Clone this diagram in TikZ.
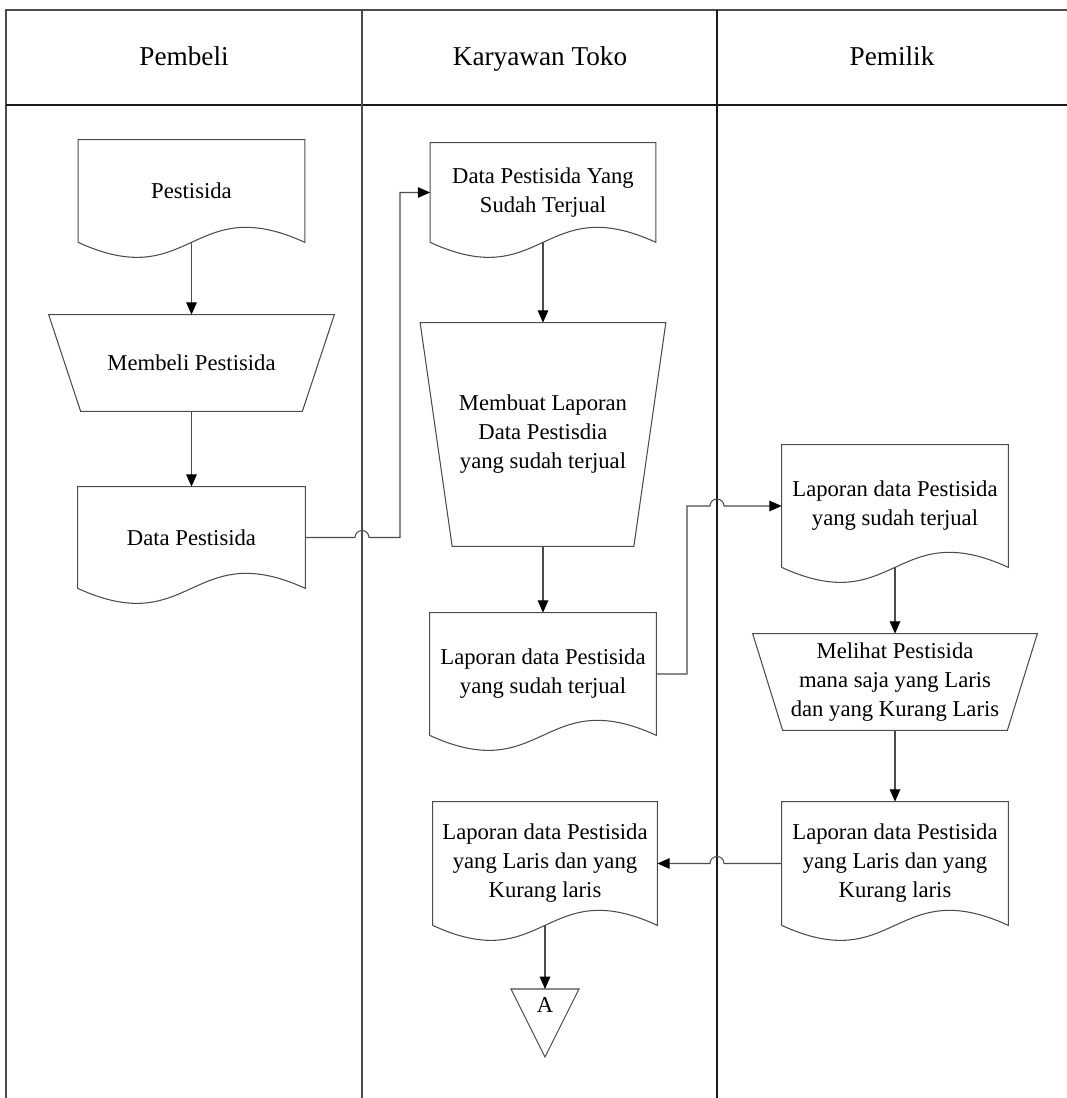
\documentclass[tikz,border=0pt]{standalone}
\usepackage{fontspec}
\setmainfont{Liberation Serif}
\usetikzlibrary{arrows.meta,calc}

\newcommand{\unitpx}{0.02cm}
\newcommand{\docshape}[1]{%
  \draw[line] (#1.south west) -- (#1.north west) -- (#1.north east) -- (#1.south east)
    .. controls ($(#1.south)+(0,-52)$) and ($(#1.south)+(0,52)$) .. (#1.south west);}
\newcommand{\manshape}[2]{%
  \draw[line] (#1.north west) -- (#1.north east) -- ($(#1.south east)+(-#2,0)$)
    -- ($(#1.south west)+(#2,0)$) -- cycle;}

\begin{document}
\begin{tikzpicture}[x=0.02cm, y=-0.02cm,
    line/.style={draw=black!70, line width=0.6pt},
    flow/.style={line, -{Triangle[length=7pt, width=6pt, color=black]}},
    txt/.style={font=\fontsize{12.9}{16.5}\selectfont, align=center, inner sep=0pt},
    box/.style 2 args={txt, minimum width=#1*\unitpx, minimum height=#2*\unitpx},
    head/.style={font=\fontsize{15.5}{18}\selectfont, anchor=base}]
        \useasboundingbox (0,0) rectangle (1067,1098);

        % lanes
        \draw[line] (6,1098) -- (6,10) -- (1067,10);
        \draw[line, draw=black!90] (6,105) -- (1067,105);
        \coordinate (div1) at (362,10);
        \coordinate (div2) at (717,10);
        \draw[line] (div1) -- (362,1098);
        \draw[line, draw=black!90] (div2) -- (717,1098);
        \node[head] (hpembeli) at (184,66) {Pembeli};
        \node[head] (hkaryawan) at (540,66) {Karyawan Toko};
        \node[head] (hpemilik) at (892,66) {Pemilik};

        % Pembeli
        \node[box={226}{102}] (pest) at (191.5,191) {Pestisida};
        \docshape{pest}
        \node[box={285}{96}] (membeli) at (191.5,363) {Membeli Pestisida};
        \manshape{membeli}{32}
        \node[box={227}{101}] (datap) at (191.5,537.5) {Data Pestisida};
        \docshape{datap}

        % Karyawan Toko
        \node[box={225}{99}] (dpyst) at (543,192.5) {Data Pestisida Yang\\Sudah Terjual};
        \docshape{dpyst}
        \node[box={245}{223}] (membuat) at (543,434.5) {Membuat Laporan\\Data Pestisdia\\yang sudah terjual};
        \manshape{membuat}{32}
        \node[box={226}{122}] (lapk) at (543,674) {Laporan data Pestisida\\yang sudah terjual};
        \docshape{lapk}
        \node[box={224}{123}] (larisk) at (545,863.5) {Laporan data Pestisida\\yang Laris dan yang\\Kurang laris};
        \docshape{larisk}
        \node[txt, anchor=north, inner sep=4.5pt] (conA) at (545,989) {A};
        \draw[line] ($(conA.north)+(-34,0)$) -- ($(conA.north)+(34,0)$) -- ($(conA.north)+(0,68)$) -- cycle;

        % Pemilik
        \node[box={226}{122}] (lapp) at (895,506) {Laporan data Pestisida\\yang sudah terjual};
        \docshape{lapp}
        \node[box={284}{96}] (melihat) at (895,682) {Melihat Pestisida\\mana saja yang Laris\\dan yang Kurang Laris};
        \manshape{melihat}{30}
        \node[box={226}{123}] (larisp) at (895,863.5) {Laporan data Pestisida\\yang Laris dan yang\\Kurang laris};
        \docshape{larisp}

        % flows
        \coordinate (jog1) at (400,10);
        \coordinate (jog2) at (687,10);
        \draw[flow] (pest.south) -- (membeli.north);
        \draw[flow] (membeli.south) -- (datap.north);
        \draw[flow] (datap.east) -- ($(datap.east -| div1)+(-7,0)$) arc[start angle=180, end angle=0, radius=1.4mm]
            -- (datap.east -| jog1) |- (dpyst.west);
        \draw[flow] (dpyst.south) -- (membuat.north);
        \draw[flow] (membuat.south) -- (lapk.north);
        \draw[flow] (lapk.east) -| (jog2 |- lapp.west) -- ($(lapp.west -| div2)+(-7,0)$)
            arc[start angle=180, end angle=0, radius=1.4mm] -- (lapp.west);
        \draw[flow] (lapp.south) -- (melihat.north);
        \draw[flow] (melihat.south) -- (larisp.north);
        \draw[flow] (larisp.west) -- ($(larisp.west -| div2)+(7,0)$)
            arc[start angle=0, end angle=180, radius=1.4mm] -- (larisk.east);
        \draw[flow] (larisk.south) -- (conA.north);
\end{tikzpicture}
\end{document}
